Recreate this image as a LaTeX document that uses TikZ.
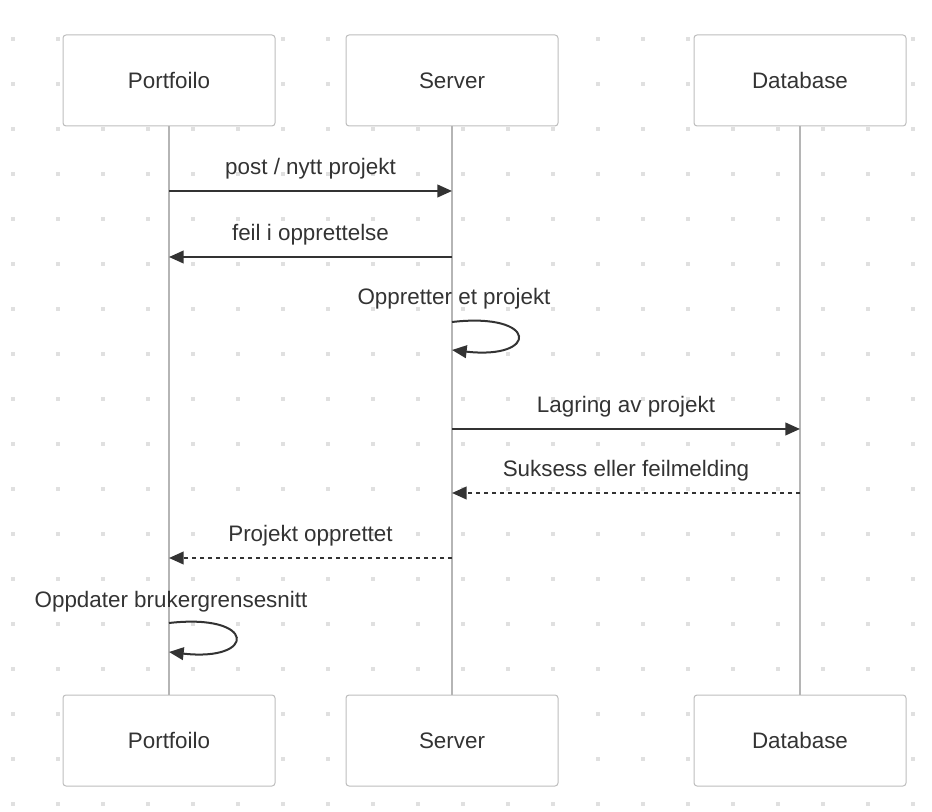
\documentclass[tikz,border=0pt]{standalone}
\usepackage{fontspec}
\setmainfont{Liberation Sans}
\usetikzlibrary{arrows.meta}
\definecolor{txt}{HTML}{333333}
\definecolor{boxline}{HTML}{BDBDBD}
\definecolor{lifegray}{HTML}{B5B5B5}
\definecolor{dotgray}{HTML}{E0E0E0}

\begin{document}
\begin{tikzpicture}[
  x=0.75pt, y=-0.75pt,
  actor/.style={draw=boxline, fill=white, rounded corners=2.25pt, line width=0.75pt,
    minimum width=159pt, minimum height=68.25pt, text=txt,
    font=\fontsize{16.8}{20}\selectfont},
  lifeline/.style={draw=lifegray, line width=1.6pt},
  msg/.style={draw=txt, line width=1.5pt, -{Triangle[length=11pt,width=9.5pt]}},
  reply/.style={msg, dash pattern=on 3pt off 3pt},
  lbl/.style={anchor=base, text=txt, inner sep=0pt, font=\fontsize{16.8}{20}\selectfont},
  above msg/.style={lbl, yshift=12pt},
]
  \useasboundingbox (0,0) rectangle (932,812);
  \foreach \i in {0,...,20}
    \foreach \j in {0,...,17}
      \fill[dotgray] (11+45*\i,37+45*\j) rectangle ++(4,4);

  \node[actor] (portTop) at (169,80.5) {Portfoilo};
  \node[actor] (servTop) at (452,80.5) {Server};
  \node[actor] (dbTop)   at (800,80.5) {Database};
  \node[actor] (portBot) at (169,740.5) {Portfoilo};
  \node[actor] (servBot) at (452,740.5) {Server};
  \node[actor] (dbBot)   at (800,740.5) {Database};

  \draw[lifeline] (portTop) -- (portBot);
  \draw[lifeline] (servTop) -- (servBot);
  \draw[lifeline] (dbTop) -- (dbBot);

  \draw[msg] (portTop.south |- 0,191) -- node[above msg] (m1) {post / nytt projekt} (servTop.south |- 0,191);
  \draw[msg] (servTop.south |- 0,257) -- node[above msg] (m2) {feil i opprettelse} (portTop.south |- 0,257);
  \node[lbl] (m3) at (454,305) {Oppretter et projekt};
  \draw[msg] (servTop.south |- 0,322) .. controls +(87,-10) and +(87,10) .. (servTop.south |- 0,350);
  \draw[msg] (servTop.south |- 0,429) -- node[above msg] (m4) {Lagring av projekt} (dbTop.south |- 0,429);
  \draw[reply] (dbTop.south |- 0,493) -- node[above msg] (m5) {Suksess eller feilmelding} (servTop.south |- 0,493);
  \draw[reply] (servTop.south |- 0,558) -- node[above msg] (m6) {Projekt opprettet} (portTop.south |- 0,558);
  \node[lbl] (m7) at (171,608) {Oppdater brukergrensesnitt};
  \draw[msg] (portTop.south |- 0,623) .. controls +(88,-10) and +(88,10) .. (portTop.south |- 0,652);
\end{tikzpicture}
\end{document}
